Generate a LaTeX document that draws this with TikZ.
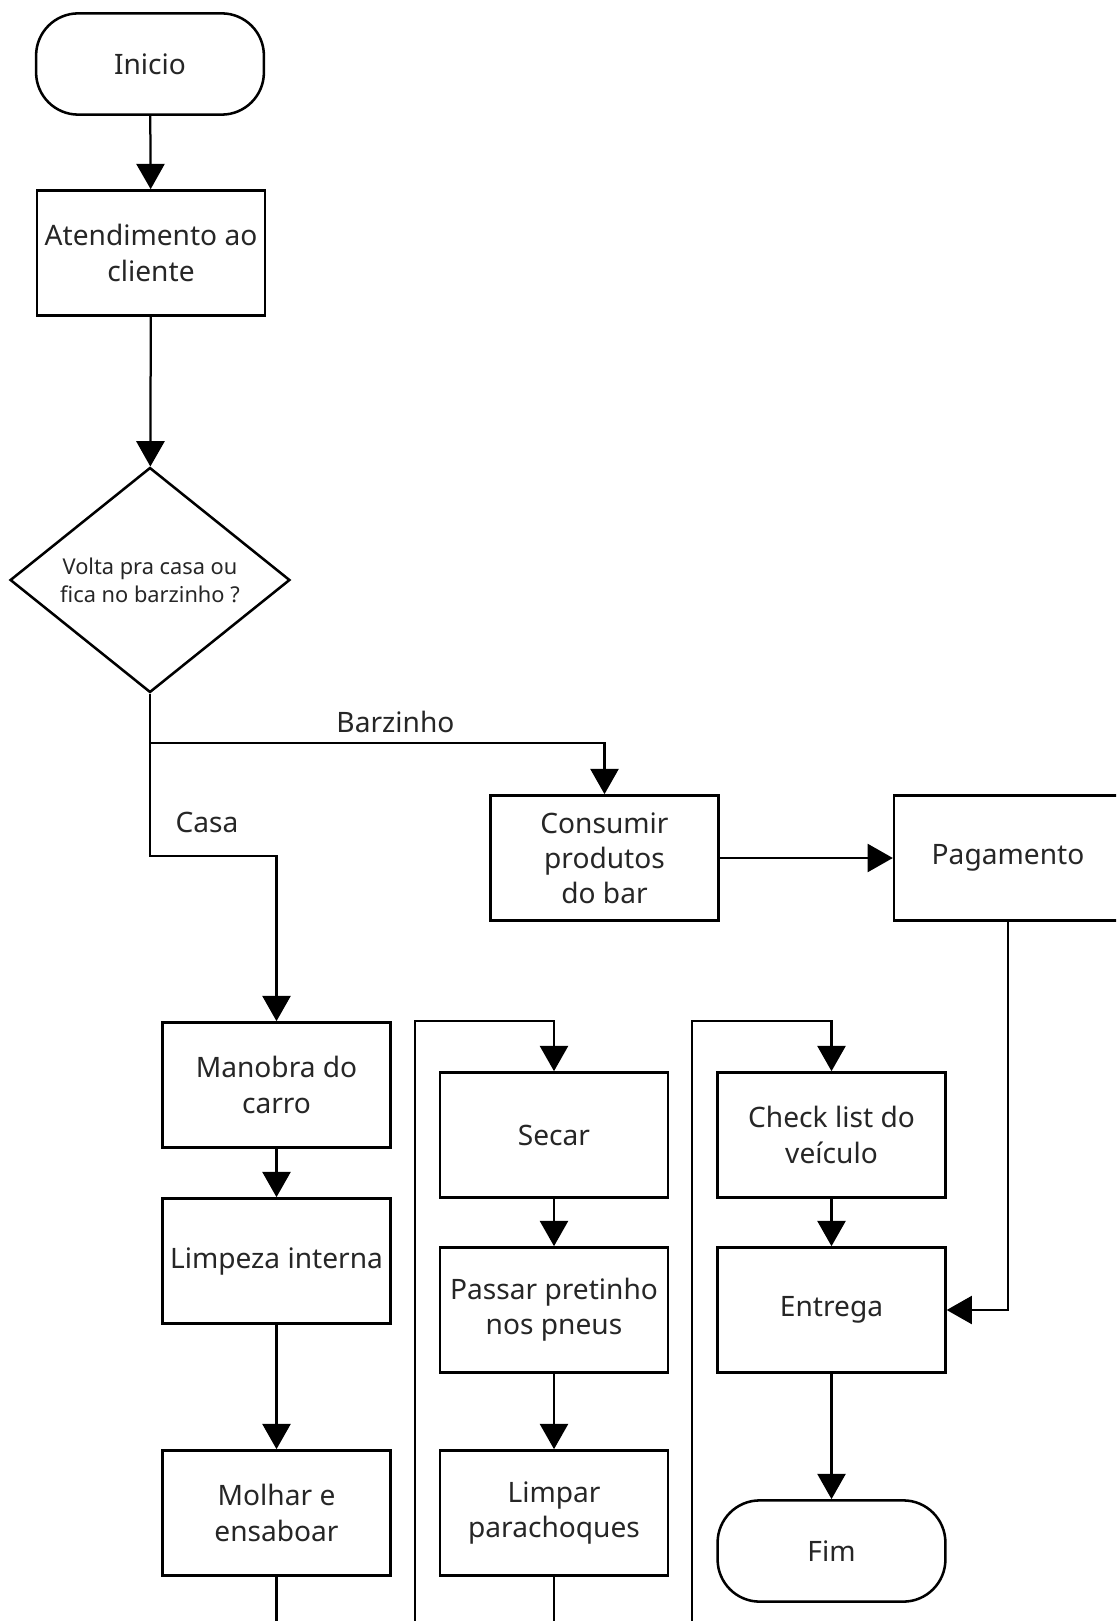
\documentclass[tikz,border=0pt]{standalone}
\usepackage{fontspec}
\setmainfont{Noto Sans}
\usetikzlibrary{shapes.geometric,arrows.meta}

\tikzset{
    box/.style={draw, line width=1.8pt, minimum width=162pt, minimum height=89pt,
        align=center, inner sep=2pt, text=black!85, font=\fontsize{20}{25}\selectfont},
    term/.style={box, rounded corners=30pt, minimum height=72pt},
    conn/.style={line width=1.6pt},
    arr/.style={conn, -{Triangle[width=20pt,length=18pt]}},
    lbl/.style={text=black!85, font=\fontsize{20}{25}\selectfont},
}

\begin{document}
\begin{tikzpicture}[x=0.025cm, y=-0.025cm]
\useasboundingbox (0,0) rectangle (1116,1621);
\clip (0,0) rectangle (1116,1621);
\fill[white] (0,0) rectangle (1116,1621);

\node[term] (inicio) at (150,64) {Inicio};
\node[box] (aten) at (151,253) {Atendimento ao\\cliente};
\node[draw, diamond, line width=1.8pt, aspect=1.24, inner sep=0pt,
    minimum width=199pt, minimum height=160pt, align=center, text=black!85,
    font=\fontsize{15.5}{20}\selectfont] (dec) at (150,580) {Volta pra casa ou\\fica no barzinho ?};

\coordinate (split) at (150,743);
\coordinate (casa) at (150,856);

\node[box] (consumir) at (604.5,858) {Consumir\\produtos\\do bar};
\node[box] (pagamento) at (1008,858) {Pagamento};

\node[box] (manobra) at (276.5,1085) {Manobra do\\carro};
\node[box] (limpeza) at (276.5,1261) {Limpeza interna};
\node[box] (molhar) at (276.5,1513) {Molhar e\\ensaboar};

\node[box] (secar) at (554,1135) {Secar};
\node[box] (passar) at (554,1310) {Passar pretinho\\nos pneus};
\node[box] (limpar) at (554,1513) {Limpar\\parachoques};

\node[box] (check) at (831.5,1135) {Check list do\\veículo};
\node[box] (entrega) at (831.5,1310) {Entrega};
\node[term] (fim) at (831.5,1551) {Fim};

% colunas continuam abaixo da pagina
\coordinate (fundoa) at (276.5,1660);
\coordinate (voltab) at (415,1660);
\coordinate (topob) at (415,1021);
\coordinate (fundob) at (554,1660);
\coordinate (voltac) at (692,1660);
\coordinate (topoc) at (692,1021);

\draw[arr] (inicio) -- (aten);
\draw[arr] (aten) -- (dec);
\draw[conn] (dec.south) -- (split);
\draw[arr] (split) -| node[pos=0.27, above=3pt, lbl] {Barzinho} (consumir.north);
\draw[arr] (split) -- node[pos=0.7, right=14pt, lbl] {Casa} (casa) -| (manobra.north);
\draw[arr] (consumir) -- (pagamento);
\draw[arr] (pagamento.south) |- (entrega.east);

\draw[arr] (manobra) -- (limpeza);
\draw[arr] (limpeza) -- (molhar);
\draw[conn] (molhar.south) -- (fundoa);

\draw[arr] (voltab) -- (topob) -| (secar.north);
\draw[arr] (secar) -- (passar);
\draw[arr] (passar) -- (limpar);
\draw[conn] (limpar.south) -- (fundob);

\draw[arr] (voltac) -- (topoc) -| (check.north);
\draw[arr] (check) -- (entrega);
\draw[arr] (entrega) -- (fim);
\end{tikzpicture}
\end{document}
